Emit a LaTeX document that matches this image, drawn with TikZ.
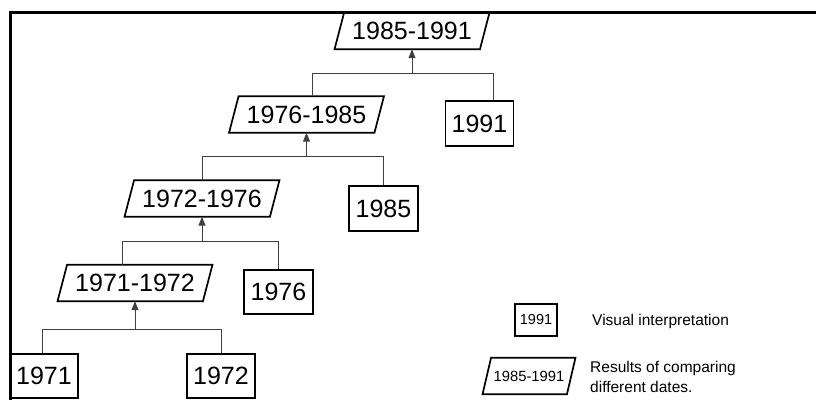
\documentclass[tikz,border=0pt]{standalone}
\usepackage{fontspec}
\setmainfont{Liberation Sans}
\usetikzlibrary{calc,arrows.meta}
\newcommand\parashape[2]{\draw[boxline] ($(#1.south west)+(-#2,0)$) -- ($(#1.north west)+(#2,0)$) -- ($(#1.north east)+(#2,0)$) -- ($(#1.south east)+(-#2,0)$) -- cycle;}
\begin{document}
\begin{tikzpicture}[x=1pt,y=-1pt,
  boxline/.style={line width=1.7pt, line join=miter},
  frameline/.style={line width=3pt},
  conn/.style={line width=1pt, draw=black!75},
  arr/.style={-{Triangle[width=7pt,length=9pt]}},
  paranode/.style={minimum width=145pt, minimum height=36pt, inner sep=0pt, font=\fontsize{25}{29}\selectfont},
  datebox/.style={draw, boxline, minimum width=68pt, minimum height=45pt, inner sep=0pt, font=\fontsize{25}{29}\selectfont},
  legtext/.style={anchor=west, inner sep=0pt, font=\fontsize{15.5}{20}\selectfont, align=left}]
\useasboundingbox (0,0) rectangle (816,399);
% frame
\draw[frameline] (10.5,400) -- (10.5,12.5) -- (817,12.5);
% comparison nodes
\node[paranode] (p1) at (412,31) {1985-1991};
\node[paranode] (p2) at (306.5,114.5) {1976-1985};
\node[paranode] (p3) at (202,198.5) {1972-1976};
\node[paranode] (p4) at (135,283) {1971-1972};
\parashape{p1}{4.75}
\parashape{p2}{4.75}
\parashape{p3}{4.75}
\parashape{p4}{4.75}
% date boxes
\node[datebox] (b1991) at (479.5,123.5) {1991};
\node[datebox, minimum width=69pt] (b1985) at (383.5,208.5) {1985};
\node[datebox, minimum width=69pt, minimum height=44pt] (b1976) at (278.5,292) {1976};
\node[datebox, minimum height=44pt] (b1971) at (44,376) {1971};
\node[datebox, minimum height=44pt] (b1972) at (221,376) {1972};
% connectors
\coordinate (j1) at ($(p1.south)+(0,24)$);
\draw[conn] ($(p2.north)+(5.5,0)$) |- (j1) -| ($(b1991.north)+(13.5,0)$);
\draw[conn,arr] (j1) -- (p1.south);
\coordinate (j2) at ($(p2.south)+(0,23.5)$);
\draw[conn] (p3.north) |- (j2) -| (b1985.north);
\draw[conn,arr] (j2) -- (p2.south);
\coordinate (j3) at ($(p3.south)+(0,24.5)$);
\draw[conn] ($(p4.north)+(-13,0)$) |- (j3) -| (b1976.north);
\draw[conn,arr] (j3) -- (p3.south);
\coordinate (j4) at ($(p4.south)+(0,28)$);
\draw[conn] ($(b1971.north)+(-2,0)$) |- (j4) -| (b1972.north);
\draw[conn,arr] (j4) -- (p4.south);
% legend
\node[draw, boxline, minimum width=42pt, minimum height=32pt, inner sep=0pt, font=\fontsize{14.5}{17}\selectfont] (lbox) at (536,320) {1991};
\node[legtext] (ltext1) at (592,321) {Visual interpretation};
\node[minimum width=84pt, minimum height=36pt, inner sep=0pt, font=\fontsize{14.8}{17}\selectfont] (lpara) at (529,376) {1985-1991};
\parashape{lpara}{4.25}
\node[legtext] (ltext2) at (590,377) {Results of comparing\\different dates.};
\end{tikzpicture}
\end{document}
